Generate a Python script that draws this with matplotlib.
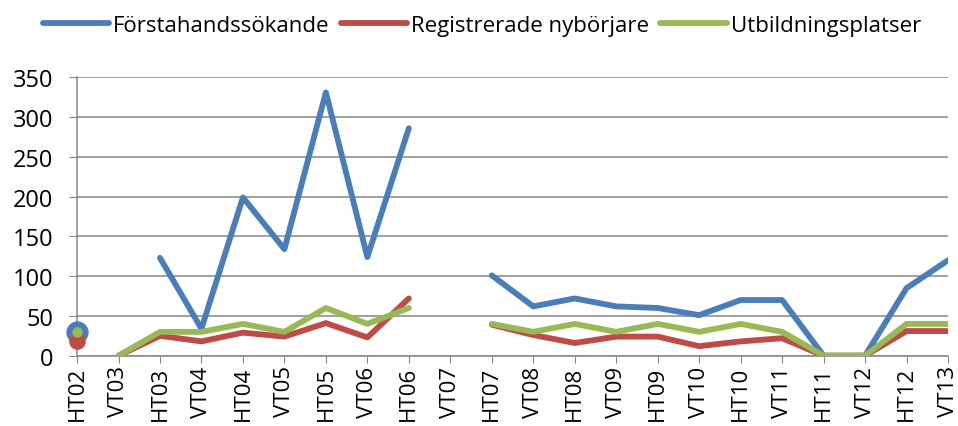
import matplotlib
matplotlib.use("Agg")
import matplotlib.pyplot as plt
import numpy as np

# Data
terms = ['HT02', 'VT03', 'HT03', 'VT04', 'HT04', 'VT05', 'HT05', 'VT06', 'HT06', 'VT07', 'HT07',
         'VT08', 'HT08', 'VT09', 'HT09', 'VT10', 'HT10', 'VT11', 'HT11', 'VT12', 'HT12', 'VT13']
nan = np.nan
forstahand = [30, nan, 123, 34, 199, 134, 331, 124, 286, nan, 101,
              62, 72, 62, 60, 51, 70, 70, 0, 0, 85, 120]
nyborjare = [19, 0, 25, 18, 29, 24, 41, 23, 72, nan, 39,
             26, 16, 24, 24, 12, 18, 22, 0, 0, 31, 31]
platser = [30, 0, 30, 30, 40, 30, 60, 40, 60, nan, 40,
           30, 40, 30, 40, 30, 40, 30, 0, 0, 40, 40]
series_names = ['Förstahandssökande', 'Registrerade nybörjare', 'Utbildningsplatser']

colors = ['#4A7EBB', '#BE4B48', '#98B954']
marker_sizes = [15, 11, 6.5]

plt.rcParams['font.family'] = ['Open Sans', 'DejaVu Sans']

fig = plt.figure(figsize=(9.58, 4.27), dpi=100)
ax = fig.add_axes([0.0804, 0.1646, 0.9092, 0.652])

x = np.arange(len(terms))
for i, (vals, name) in enumerate(zip([forstahand, nyborjare, platser], series_names)):
    v = np.array(vals, dtype=float)
    # first term stands alone as a marker, the rest is a line
    ax.plot(x[1:], v[1:], color=colors[i], lw=4.2, label=name, zorder=3 + i,
            solid_capstyle='round', solid_joinstyle='round')
    ax.plot(x[:1], v[:1], 'o', color=colors[i], ms=marker_sizes[i], zorder=3 + i, clip_on=False)

ax.set_xlim(0, len(terms) - 1)
ax.set_ylim(0, 350)
ax.set_yticks(range(0, 351, 50))
ax.set_xticks(x)
ax.set_xticklabels(terms, rotation=90, fontsize=16)
ax.tick_params(axis='y', labelsize=17, length=6, color='#868686', pad=11)
ax.tick_params(axis='x', length=5, color='#868686', pad=2)

ax.grid(axis='y', color='#868686', lw=1.1)
ax.set_axisbelow(True)
for s in ['top', 'right']:
    ax.spines[s].set_visible(False)
for s in ['left', 'bottom']:
    ax.spines[s].set_color('#868686')
    ax.spines[s].set_linewidth(1.1)

fig.legend(loc='upper center', bbox_to_anchor=(0.503, 1.01), ncol=3, frameon=False,
           fontsize=16, handlelength=3.0, handletextpad=0.17, columnspacing=0.5)

fig.savefig('out.png', dpi=100)
